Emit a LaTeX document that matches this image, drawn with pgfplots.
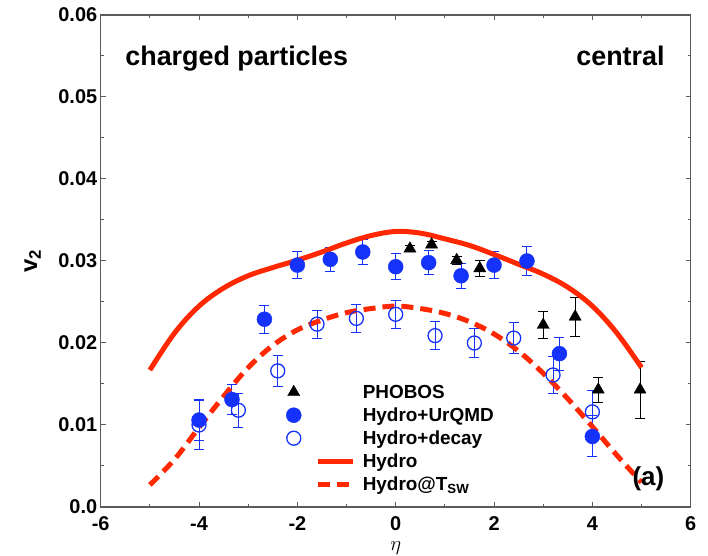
\documentclass[border=0pt]{standalone}
\usepackage{fontspec}
\setmainfont{Liberation Sans}
\usepackage{pgfplots}
\pgfplotsset{compat=1.18}
\definecolor{myblue}{RGB}{20,50,250}
\definecolor{myred}{RGB}{255,40,0}
\definecolor{axgray}{RGB}{90,90,90}
\pgfplotsset{
 markleg/.style={legend image code/.code={\draw[##1] plot coordinates {(0bp,1bp)}; \path[draw=none,fill=none] (0bp,1bp) -- (69bp,1bp);}},
 lineleg/.style={legend image code/.code={\draw[##1] (24bp,1bp) -- (59bp,1bp); \path[draw=none,fill=none] (0bp,1bp) -- (69bp,1bp);}},
}
\pgfplotstableread{
x y e
0.29 0.0315 0.0004
0.73 0.0320 0.0004
1.24 0.0301 0.0005
1.71 0.0291 0.0010
3.00 0.0222 0.0016
3.65 0.0232 0.0024
4.12 0.0143 0.0015
4.97 0.0143 0.0035
}\phobos
\pgfplotstableread{
x y e
-4.00 0.0106 0.0025
-3.33 0.0131 0.0018
-2.67 0.0229 0.0017
-2.00 0.0295 0.0016
-1.33 0.0302 0.0015
-0.67 0.0311 0.0015
0.00 0.0293 0.0016
0.67 0.0298 0.0015
1.33 0.0282 0.0015
2.00 0.0295 0.0016
2.67 0.0300 0.0018
3.33 0.0187 0.0020
4.00 0.0086 0.0025
}\urqmd
\pgfplotstableread{
x y e
-4.0 0.0100 0.0030
-3.2 0.0118 0.0021
-2.4 0.0166 0.0019
-1.6 0.0223 0.0017
-0.8 0.0230 0.0017
0.0 0.0235 0.0017
0.8 0.0209 0.0017
1.6 0.0200 0.0018
2.4 0.0206 0.0019
3.2 0.0161 0.0022
4.0 0.0116 0.0026
}\decay
\pgfplotstableread{
x y
-5.0 0.0167
-4.5 0.0212
-4.0 0.0245
-3.5 0.0267
-3.0 0.0282
-2.5 0.0292
-2.0 0.0301
-1.5 0.0311
-1.0 0.0322
-0.5 0.0331
0.0 0.0336
0.5 0.0334
1.0 0.0327
1.5 0.0319
2.0 0.0308
2.5 0.0296
3.0 0.0284
3.5 0.0268
4.0 0.0245
4.5 0.0212
5.0 0.0170
}\hydro
\pgfplotstableread{
x y
-5.0 0.0027
-4.5 0.0058
-4.0 0.0097
-3.5 0.0135
-3.0 0.0170
-2.5 0.0197
-2.0 0.0216
-1.5 0.0228
-1.0 0.0237
-0.5 0.0242
0.0 0.0245
0.5 0.0242
1.0 0.0236
1.5 0.0226
2.0 0.0211
2.5 0.0190
3.0 0.0163
3.5 0.0132
4.0 0.0098
4.5 0.0063
5.0 0.0030
}\hydrotsw
\begin{document}
\begin{tikzpicture}
\useasboundingbox (0,0) rectangle (708bp,556bp);
\begin{axis}[
 at={(100.7bp,49bp)}, anchor=south west,
 scale only axis, width=590bp, height=492bp,
 xmin=-6, xmax=6, ymin=0, ymax=0.06,
 xtick={-6,-4,-2,0,2,4,6}, xticklabels={-6,-4,-2,0,2,4,6},
 ytick={0,0.01,0.02,0.03,0.04,0.05,0.06},
 yticklabels={0.0,0.01,0.02,0.03,0.04,0.05,0.06},
 scaled y ticks=false,
 minor x tick num=1, minor y tick num=1,
 tick align=inside, major tick length=5bp, minor tick length=3bp,
 axis line style={axgray, line width=1.2bp},
 every tick/.style={axgray, line width=1bp},
 ticklabel style={font=\fontsize{20}{20}\selectfont\bfseries},
 xticklabel style={yshift=-6bp},
 xlabel={$\eta$},
 xlabel style={at={(rel axis cs:0.5,0)}, anchor=center, yshift=-41bp, font=\fontsize{22}{22}\selectfont},
 ylabel={v\textsubscript{2}},
 ylabel style={at={(rel axis cs:0,0.5)}, anchor=center, yshift=68bp, font=\fontsize{24}{24}\selectfont\bfseries},
 legend style={draw=none, fill=none, inner sep=0pt, at={(axis cs:-2.23,0.0150)}, anchor=north west,
   font=\fontsize{19}{19}\selectfont\bfseries, row sep=5bp,
   nodes={inner xsep=0pt, inner ysep=0pt, text height=14bp, text depth=4bp}},
 legend cell align=left,
]
\addplot[only marks, mark=triangle*, mark size=7bp, black, markleg,
  error bars/.cd, y dir=both, y explicit, error bar style={line width=1bp}, error mark options={rotate=90, mark size=5bp, line width=1bp}]
  table[x=x, y=y, y error=e]{\phobos};
\addlegendentry{PHOBOS}
\addplot[only marks, mark=*, mark size=7.5bp, myblue, markleg,
  error bars/.cd, y dir=both, y explicit, error bar style={line width=1bp}, error mark options={rotate=90, mark size=5bp, line width=1bp}]
  table[x=x, y=y, y error=e]{\urqmd};
\addlegendentry{Hydro+UrQMD}
\addplot[only marks, mark=o, mark size=7bp, myblue, line width=1.3bp, markleg,
  error bars/.cd, y dir=both, y explicit, error bar style={line width=1bp}, error mark options={rotate=90, mark size=5bp, line width=1bp}]
  table[x=x, y=y, y error=e]{\decay};
\addlegendentry{Hydro+decay}
\addplot[myred, line width=5bp, smooth, tension=0.6, no markers, lineleg] table[x=x, y=y]{\hydro};
\addlegendentry{Hydro}
\addplot[myred, line width=5bp, smooth, tension=0.6, no markers, dash pattern=on 12bp off 7bp, lineleg] table[x=x, y=y]{\hydrotsw};
\addlegendentry{Hydro@T\textsubscript{SW}}
\node[anchor=base west, font=\fontsize{27}{27}\selectfont\bfseries] at (axis cs:-5.57,0.0539) {charged particles};
\node[anchor=base east, font=\fontsize{27}{27}\selectfont\bfseries] at (axis cs:5.54,0.0539) {central};
\node[anchor=center, font=\fontsize{26}{26}\selectfont\bfseries] at (axis cs:5.14,0.0034) {(a)};
\end{axis}
\end{tikzpicture}
\end{document}
